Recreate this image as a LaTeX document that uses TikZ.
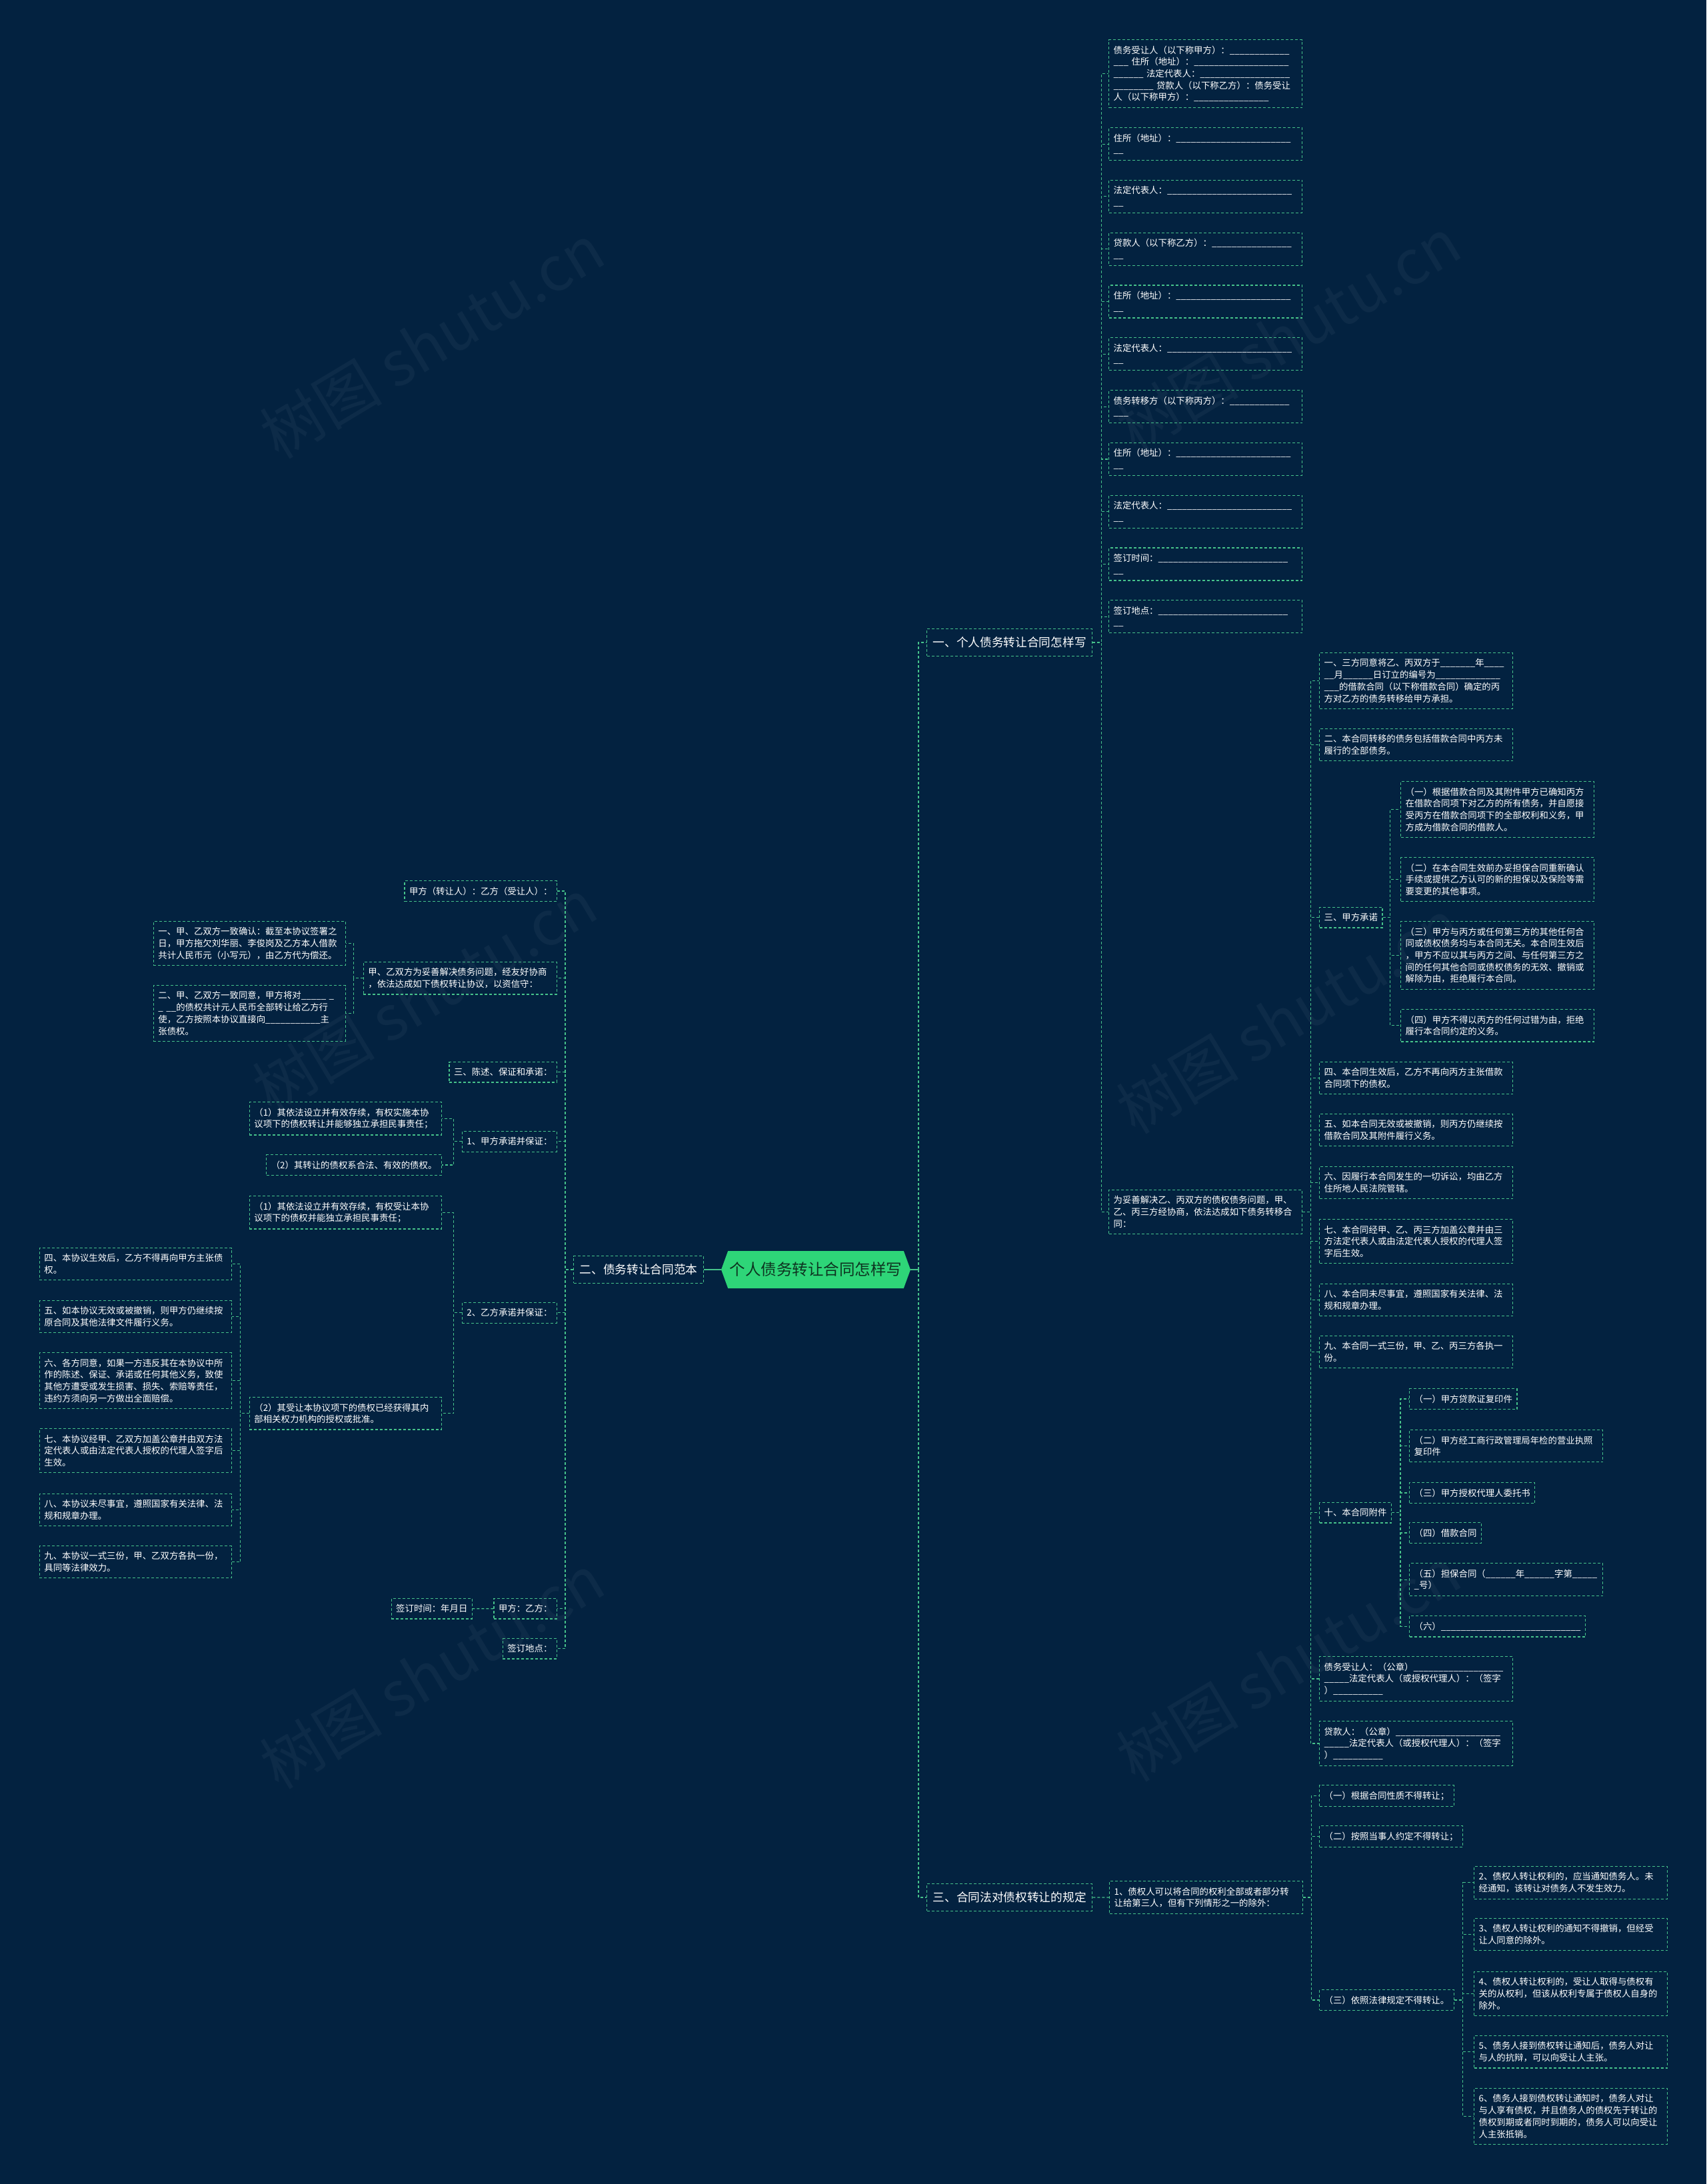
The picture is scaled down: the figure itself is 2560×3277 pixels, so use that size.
\documentclass[tikz,border=0pt]{standalone}
\usepackage{fontspec}
\setmainfont{Noto Sans CJK SC}
\usetikzlibrary{shapes.symbols}

\definecolor{bg}{HTML}{032240}
\definecolor{lc}{HTML}{46C28A}
\definecolor{rootfill}{HTML}{2ED578}
\definecolor{roottext}{HTML}{0D3320}
\newcommand\leaffont{\fontsize{13.4}{17.7}\selectfont}
\newcommand\branchfont{\fontsize{17.7}{22}\selectfont}
\newcommand\rootfont{\fontsize{23.5}{28}\selectfont}
\newcommand\us[1]{\foreach\n in {1,...,#1}{\_}}

\tikzset{
  box/.style={draw=lc, line width=1.2pt, dash pattern=on 4pt off 3pt,
    text=white, anchor=north west},
  leaf/.style={box, font=\leaffont, align=left, inner xsep=7pt, inner ysep=9pt},
  tw/.style={text width=#1},
  branch/.style={box, font=\branchfont, inner xsep=9pt, inner ysep=12pt, anchor=west},
  root/.style={shape=signal, signal to=east and west, signal pointer angle=140,
    fill=rootfill, text=roottext, font=\rootfont, minimum width=284pt,
    minimum height=56pt, inner sep=2pt},
  link/.style={draw=lc, line width=1.2pt, dash pattern=on 4pt off 3pt},
  rootlink/.style={draw=lc, line width=2pt},
  wm/.style={text=white!4!bg, font=\fontsize{92}{92}\selectfont, rotate=31}
}

\begin{document}
\begin{tikzpicture}[x=1pt, y=-1pt]
  \fill[bg] (0,0) rectangle (2560,3277);
  \useasboundingbox (0,0) rectangle (2560,3277);
  % watermarks
  \foreach \p/\q in {648/512, 1933/502, 637/1494, 1933/1525, 648/2508, 1933/2497}
    \node[wm] at (\p,\q) {树图 shutu.cn};

  % centre and main branches
  \node[root] (root) at (1224,1905) {个人债务转让合同怎样写};
  \node[branch] (b1) at (1390,964) {一、个人债务转让合同怎样写};
  \node[branch] (b2) at (860,1905) {二、债务转让合同范本};
  \node[branch] (b3) at (1390,2847) {三、合同法对债权转让的规定};
  \coordinate (rt) at (1378,1905);
  \draw[rootlink] (root.west) -- (b2.east);
  \draw[rootlink] (root.east) -- (rt);
  \draw[link] (rt) |- (b1.west);
  \draw[link] (rt) |- (b3.west);

  % branch 1: form fields
  \node[leaf, tw=276pt] (a1) at (1663,59) {债务受让人（以下称甲方）：\us{12}\\\us{3}~住所（地址）：\us{19}\\\us{6}~法定代表人：\us{18}\\\us{8}~贷款人（以下称乙方）：债务受让\\人（以下称甲方）：\us{15}};
  \foreach \t [count=\k from 2] in {
    {住所（地址）：\us{23}\\\us{2}},
    {法定代表人：\us{25}\\\us{2}},
    {贷款人（以下称乙方）：\us{16}\\\us{2}},
    {住所（地址）：\us{23}\\\us{2}},
    {法定代表人：\us{25}\\\us{2}},
    {债务转移方（以下称丙方）：\us{12}\\\us{3}},
    {住所（地址）：\us{23}\\\us{2}},
    {法定代表人：\us{25}\\\us{2}},
    {签订时间：\us{26}\\\us{2}},
    {签订地点：\us{26}\\\us{2}}}
    \node[leaf, tw=276pt] (a\k) at (1663,{191+78.8*(\k-2)}) {\t};
  \node[leaf, tw=276pt] (tuo) at (1663,1785) {为妥善解决乙、丙双方的债权债务问题，甲、\\乙、丙三方经协商，依法达成如下债务转移合\\同：};
  \foreach \k in {1,...,11}
    \draw[link] (b1.east) -- ++(13,0) |- (a\k.west);
  \draw[link] (b1.east) -- ++(13,0) |- (tuo.west);

  % contract articles
  \node[leaf, tw=276pt] (c1) at (1979,979) {一、三方同意将乙、丙双方于\us{7}年\us{4}\\\us{2}月\us{6}日订立的编号为\us{13}\\\us{3}的借款合同（以下称借款合同）确定的丙\\方对乙方的债务转移给甲方承担。};
  \node[leaf, tw=276pt] (c2) at (1979,1093) {二、本合同转移的债务包括借款合同中丙方未\\履行的全部债务。};
  \node[leaf] (c3) at (1979,1361) {三、甲方承诺};
  \node[leaf, tw=276pt] (c4) at (1979,1593) {四、本合同生效后，乙方不再向丙方主张借款\\合同项下的债权。};
  \node[leaf, tw=276pt] (c5) at (1979,1671) {五、如本合同无效或被撤销，则丙方仍继续按\\借款合同及其附件履行义务。};
  \node[leaf, tw=276pt] (c6) at (1979,1750) {六、因履行本合同发生的一切诉讼，均由乙方\\住所地人民法院管辖。};
  \node[leaf, tw=276pt] (c7) at (1979,1829) {七、本合同经甲、乙、丙三方加盖公章并由三\\方法定代表人或由法定代表人授权的代理人签\\字后生效。};
  \node[leaf, tw=276pt] (c8) at (1979,1926) {八、本合同未尽事宜，遵照国家有关法律、法\\规和规章办理。};
  \node[leaf, tw=276pt] (c9) at (1979,2004) {九、本合同一式三份，甲、乙、丙三方各执一\\份。};
  \node[leaf] (c10) at (1979,2254) {十、本合同附件};
  \node[leaf, tw=276pt] (c11) at (1979,2485) {债务受让人：（公章）\us{18}\\\us{5}法定代表人（或授权代理人）：（签字\\）\us{10}};
  \node[leaf, tw=276pt] (c12) at (1979,2582) {贷款人：（公章）\us{21}\\\us{5}法定代表人（或授权代理人）：（签字\\）\us{10}};
  \foreach \k in {1,...,12}
    \draw[link] (tuo.east) -- ++(12,0) |- (c\k.west);

  % promises of party A
  \node[leaf, tw=276pt] (d1) at (2101,1172) {（一）根据借款合同及其附件甲方已确知丙方\\在借款合同项下对乙方的所有债务，并自愿接\\受丙方在借款合同项下的全部权利和义务，甲\\方成为借款合同的借款人。};
  \node[leaf, tw=276pt] (d2) at (2101,1286) {（二）在本合同生效前办妥担保合同重新确认\\手续或提供乙方认可的新的担保以及保险等需\\要变更的其他事项。};
  \node[leaf, tw=276pt] (d3) at (2101,1382) {（三）甲方与丙方或任何第三方的其他任何合\\同或债权债务均与本合同无关。本合同生效后\\，甲方不应以其与丙方之间、与任何第三方之\\间的任何其他合同或债权债务的无效、撤销或\\解除为由，拒绝履行本合同。};
  \node[leaf, tw=276pt] (d4) at (2101,1514) {（四）甲方不得以丙方的任何过错为由，拒绝\\履行本合同约定的义务。};
  \foreach \k in {1,...,4}
    \draw[link] (c3.east) -- ++(11,0) |- (d\k.west);

  % attachments
  \node[leaf] (e1) at (2114,2083) {（一）甲方贷款证复印件};
  \node[leaf, tw=276pt] (e2) at (2114,2145) {（二）甲方经工商行政管理局年检的营业执照\\复印件};
  \node[leaf] (e3) at (2114,2224) {（三）甲方授权代理人委托书};
  \node[leaf] (e4) at (2114,2284) {（四）借款合同};
  \node[leaf, tw=276pt] (e5) at (2114,2345) {（五）担保合同（\us{6}年\us{6}字第\us{5}\\\us{1}号）};
  \node[leaf] (e6) at (2114,2424) {（六）\us{28}};
  \foreach \k in {1,...,6}
    \draw[link] (c10.east) -- ++(13,0) |- (e\k.west);

  % branch 3: contract law
  \node[leaf, tw=276pt] (f1) at (1664,2822) {1、债权人可以将合同的权利全部或者部分转\\让给第三人，但有下列情形之一的除外：};
  \draw[link] (b3.east) -- (f1.west);
  \node[leaf] (g1) at (1979,2678) {（一）根据合同性质不得转让；};
  \node[leaf] (g2) at (1979,2739) {（二）按照当事人约定不得转让；};
  \node[leaf] (g3) at (1979,2985) {（三）依照法律规定不得转让。};
  \foreach \k in {1,...,3}
    \draw[link] (f1.east) -- ++(12,0) |- (g\k.west);
  \node[leaf, tw=276pt] (h2) at (2211,2800) {2、债权人转让权利的，应当通知债务人。未\\经通知，该转让对债务人不发生效力。};
  \node[leaf, tw=276pt] (h3) at (2211,2878) {3、债权人转让权利的通知不得撤销，但经受\\让人同意的除外。};
  \node[leaf, tw=276pt] (h4) at (2211,2958) {4、债权人转让权利的，受让人取得与债权有\\关的从权利，但该从权利专属于债权人自身的\\除外。};
  \node[leaf, tw=276pt] (h5) at (2211,3054) {5、债务人接到债权转让通知后，债务人对让\\与人的抗辩，可以向受让人主张。};
  \node[leaf, tw=276pt] (h6) at (2211,3133) {6、债务人接到债权转让通知时，债务人对让\\与人享有债权，并且债务人的债权先于转让的\\债权到期或者同时到期的，债务人可以向受让\\人主张抵销。};
  \foreach \k in {2,...,6}
    \draw[link] (g3.east) -- ++(13,0) |- (h\k.west);

  % branch 2: sample agreement (left)
  \node[leaf, anchor=north east] (l1) at (836,1321) {甲方（转让人）：乙方（受让人）：};
  \node[leaf, anchor=north east, tw=276pt] (l2) at (836,1443) {甲、乙双方为妥善解决债务问题，经友好协商\\，依法达成如下债权转让协议，以资信守：};
  \node[leaf, anchor=north east] (l3) at (836,1593) {三、陈述、保证和承诺：};
  \node[leaf, anchor=north east] (l4) at (836,1697) {1、甲方承诺并保证：};
  \node[leaf, anchor=north east] (l5) at (836,1954) {2、乙方承诺并保证：};
  \node[leaf, anchor=north east] (l6) at (836,2398) {甲方：乙方：};
  \node[leaf, anchor=north east] (l7) at (836,2458) {签订地点：};
  \foreach \k in {1,...,7}
    \draw[link] (b2.west) -- ++(-12,0) |- (l\k.east);

  \node[leaf, anchor=north east, tw=274pt] (l2a) at (519,1382) {一、甲、乙双方一致确认：截至本协议签署之\\日，甲方拖欠刘华丽、李俊岗及乙方本人借款\\共计人民币元（小写元），由乙方代为偿还。};
  \node[leaf, anchor=north east, tw=274pt] (l2b) at (519,1478) {二、甲、乙双方一致同意，甲方将对\us{5}~\us{1}\\\us{1}~\us{2}的债权共计元人民币全部转让给乙方行\\使，乙方按照本协议直接向\us{11}主\\张债权。};
  \draw[link] (l2.west) -- ++(-14,0) |- (l2a.east);
  \draw[link] (l2.west) -- ++(-14,0) |- (l2b.east);

  \node[leaf, anchor=north east, tw=274pt] (l4a) at (663,1653) {（1）其依法设立并有效存续，有权实施本协\\议项下的债权转让并能够独立承担民事责任；};
  \node[leaf, anchor=north east] (l4b) at (663,1732) {（2）其转让的债权系合法、有效的债权。};
  \draw[link] (l4.west) -- ++(-12,0) |- (l4a.east);
  \draw[link] (l4.west) -- ++(-12,0) |- (l4b.east);

  \node[leaf, anchor=north east, tw=274pt] (l5a) at (663,1794) {（1）其依法设立并有效存续，有权受让本协\\议项下的债权并能独立承担民事责任；};
  \node[leaf, anchor=north east, tw=274pt] (l5b) at (663,2096) {（2）其受让本协议项下的债权已经获得其内\\部相关权力机构的授权或批准。};
  \draw[link] (l5.west) -- ++(-12,0) |- (l5a.east);
  \draw[link] (l5.west) -- ++(-12,0) |- (l5b.east);

  \node[leaf, anchor=north east, tw=274pt] (m4) at (348,1872) {四、本协议生效后，乙方不得再向甲方主张债\\权。};
  \node[leaf, anchor=north east, tw=274pt] (m5) at (348,1951) {五、如本协议无效或被撤销，则甲方仍继续按\\原合同及其他法律文件履行义务。};
  \node[leaf, anchor=north east, tw=274pt] (m6) at (348,2029) {六、各方同意，如果一方违反其在本协议中所\\作的陈述、保证、承诺或任何其他义务，致使\\其他方遭受或发生损害、损失、索赔等责任，\\违约方须向另一方做出全面赔偿。};
  \node[leaf, anchor=north east, tw=274pt] (m7) at (348,2143) {七、本协议经甲、乙双方加盖公章并由双方法\\定代表人或由法定代表人授权的代理人签字后\\生效。};
  \node[leaf, anchor=north east, tw=274pt] (m8) at (348,2241) {八、本协议未尽事宜，遵照国家有关法律、法\\规和规章办理。};
  \node[leaf, anchor=north east, tw=274pt] (m9) at (348,2319) {九、本协议一式三份，甲、乙双方各执一份，\\具同等法律效力。};
  \foreach \k in {4,...,9}
    \draw[link] (l5b.west) -- ++(-13,0) |- (m\k.east);

  \node[leaf, anchor=north east] (l6a) at (709,2398) {签订时间：年月日};
  \draw[link] (l6.west) -- (l6a.east);
\end{tikzpicture}
\end{document}
